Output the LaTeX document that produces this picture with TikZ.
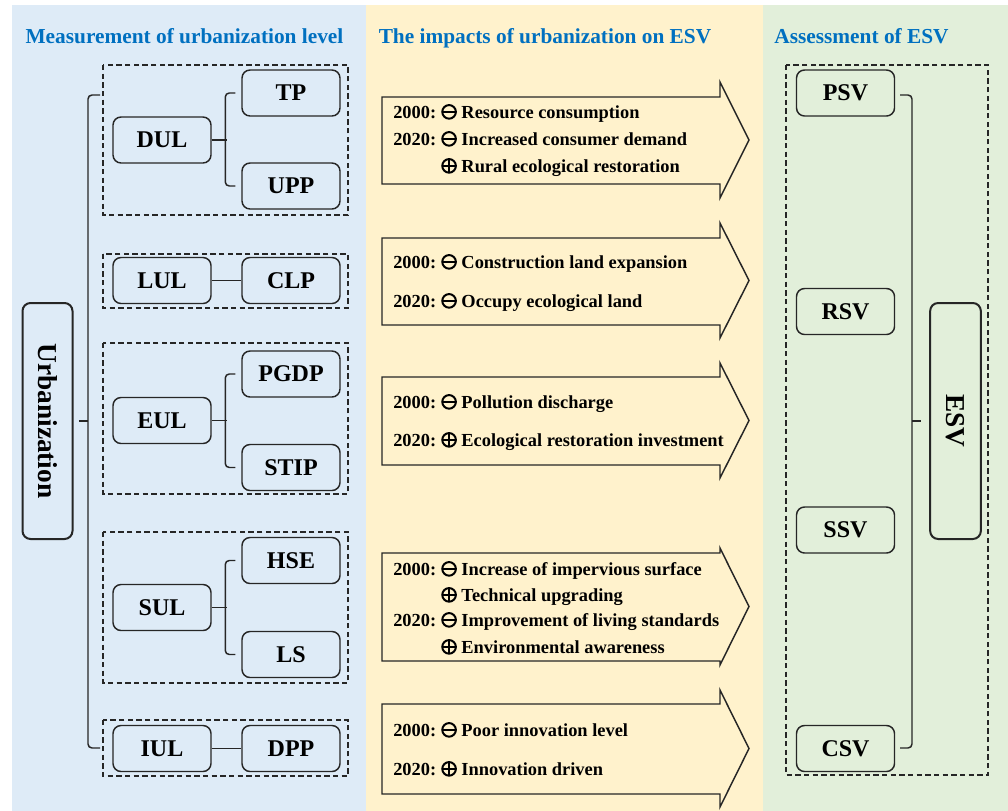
\documentclass[tikz,border=0pt]{standalone}
\usepackage{fontspec}
\setmainfont{Liberation Serif}
\usetikzlibrary{calc}
\definecolor{pblue}{RGB}{222,235,247}
\definecolor{pyellow}{RGB}{255,242,204}
\definecolor{pgreen}{RGB}{226,239,218}
\definecolor{tblue}{RGB}{0,112,192}
\definecolor{ink}{RGB}{38,38,38}
\newcommand\cminus{\tikz[baseline={(0pt,-4.6pt)}]{\draw[line width=1.5pt,black] (0pt,0pt) circle (5.1pt); \draw[line width=1.5pt,black] (-5.1pt,0pt) -- (5.1pt,0pt);}}
\newcommand\cplus{\tikz[baseline={(0pt,-4.6pt)}]{\draw[line width=1.5pt,black] (0pt,0pt) circle (5.1pt); \draw[line width=1.5pt,black] (-5.1pt,0pt) -- (5.1pt,0pt); \draw[line width=1.5pt,black] (0pt,-5.1pt) -- (0pt,5.1pt);}}
\newcommand\yr[1]{\makebox[36pt][l]{#1}}
\tikzset{
  box/.style={draw=ink, line width=1.1pt, rounded corners=6pt, minimum width=73.5pt, minimum height=34.5pt, inner sep=0pt, font=\fontsize{18}{20}\selectfont\bfseries, text=black},
  bigbox/.style={box, line width=1.5pt, minimum width=37.5pt, minimum height=177pt, font=\fontsize{20.5}{22}\selectfont\bfseries},
  grp/.style={draw=ink, line width=1.1pt, dash pattern=on 4pt off 2.5pt},
  conn/.style={draw=ink, line width=1.1pt},
  arr/.style={draw=ink, line width=1.1pt, line join=miter},
  ttl/.style={font=\fontsize{16}{18}\selectfont\bfseries, text=tblue, anchor=base, inner sep=0pt},
  itxt/.style={font=\fontsize{13.8}{16}\selectfont\bfseries, anchor=base west, inner sep=0pt, text=black}
}
\begin{document}
\begin{tikzpicture}[x=0.75pt,y=-0.75pt]
\useasboundingbox (0,0) rectangle (1008,811);
\fill[white] (0,0) rectangle (1008,811);
\fill[pblue] (12,5) rectangle (366,811);
\fill[pyellow] (366,5) rectangle (763,811);
\fill[pgreen] (763,5) rectangle (1008,811);

% titles
\node[ttl] (t1) at (184.5,43) {Measurement of urbanization level};
\node[ttl] (t2) at (545,43) {The impacts of urbanization on ESV};
\node[ttl] (t3) at (861.5,43) {Assessment of ESV};

% left groups
\draw[grp] (103,65) rectangle (348,215);
\draw[grp] (103,254) rectangle (348,308);
\draw[grp] (103,343) rectangle (348,494);
\draw[grp] (103,532) rectangle (348,683);
\draw[grp] (103,720) rectangle (348,776);

\node[box] (dul) at (162,140) {DUL};
\node[box] (tp) at (291,93) {TP};
\node[box] (upp) at (291,186) {UPP};
\node[box] (lul) at (162,280.5) {LUL};
\node[box] (clp) at (291,280.5) {CLP};
\node[box] (eul) at (162,420.5) {EUL};
\node[box] (pgdp) at (291,374) {PGDP};
\node[box] (stip) at (291,467.5) {STIP};
\node[box] (sul) at (162,607.5) {SUL};
\node[box] (hse) at (291,560.5) {HSE};
\node[box] (ls) at (291,654.5) {LS};
\node[box] (iul) at (162,748.5) {IUL};
\node[box] (dpp) at (291,748.5) {DPP};

\node[bigbox] (urb) at (47.5,421) {\rotatebox{-90}{Urbanization}};

\foreach \a/\b/\c in {dul/tp/upp, eul/pgdp/stip, sul/hse/ls} {
  \draw[conn] (\a.east) -- ++(11.25pt,0pt);
  \draw[conn, rounded corners=3pt] ([xshift=-4.5pt]\b.west) -- ++(-7.5pt,0pt) |- ([xshift=-4.5pt]\c.west);
}
\draw[conn] (lul) -- (clp);
\draw[conn] (iul) -- (dpp);

\coordinate (lt) at (100,95);
\coordinate (lb) at (100,748);
\coordinate (lmid) at (88,421);
\draw[conn, rounded corners=3pt] (lt) -- ++(-9pt,0pt) |- (lb);
\draw[conn] ([xshift=4pt]urb.east) -- (lmid);

% arrows
\draw[arr] (382,97) -- (720,97) -- (720,82) -- (749,140) -- (720,198) -- (720,184) -- (382,184) -- cycle;
\draw[arr] (382,238) -- (720,238) -- (720,223) -- (749,280.5) -- (720,338) -- (720,325) -- (382,325) -- cycle;
\draw[arr] (382,377) -- (720,377) -- (720,363) -- (749,420.5) -- (720,478) -- (720,465) -- (382,465) -- cycle;
\draw[arr] (382,553) -- (720,553) -- (720,548) -- (749,606.5) -- (720,665) -- (720,661) -- (382,661) -- cycle;
\draw[arr] (382,704) -- (720,704) -- (720,690) -- (749,748.5) -- (720,807) -- (720,794) -- (382,794) -- cycle;

\node[itxt] (a1) at (393,118) {\yr{2000:}\cminus\ Resource consumption};
\node[itxt] (a2) at (393,145) {\yr{2020:}\cminus\ Increased consumer demand};
\node[itxt] (a3) at (393,172) {\yr{}\cplus\ Rural ecological restoration};

\node[itxt] (b1) at (393,268) {\yr{2000:}\cminus\ Construction land expansion};
\node[itxt] (b2) at (393,307) {\yr{2020:}\cminus\ Occupy ecological land};

\node[itxt] (c1) at (393,408) {\yr{2000:}\cminus\ Pollution discharge};
\node[itxt] (c2) at (393,446) {\yr{2020:}\cplus\ Ecological restoration investment};

\node[itxt] (d1) at (393,575) {\yr{2000:}\cminus\ Increase of impervious surface};
\node[itxt] (d2) at (393,601) {\yr{}\cplus\ Technical upgrading};
\node[itxt] (d3) at (393,626) {\yr{2020:}\cminus\ Improvement of living standards};
\node[itxt] (d4) at (393,653) {\yr{}\cplus\ Environmental awareness};

\node[itxt] (e1) at (393,736) {\yr{2000:}\cminus\ Poor innovation level};
\node[itxt] (e2) at (393,775) {\yr{2020:}\cplus\ Innovation driven};

% right column
\draw[grp] (786,65) rectangle (988,775);
\node[box] (psv) at (845.5,93) {PSV};
\node[box] (rsv) at (845.5,311.5) {RSV};
\node[box] (ssv) at (845.5,530) {SSV};
\node[box] (csv) at (845.5,748.5) {CSV};
\node[bigbox, minimum width=38pt] (esv) at (955.5,421) {\rotatebox{-90}{ESV}};

\coordinate (rt) at (900,95);
\coordinate (rb) at (900,748);
\coordinate (rmid) at (912,421);
\draw[conn, rounded corners=3pt] (rt) -- ++(9pt,0pt) |- (rb);
\draw[conn] (rmid) -- ([xshift=-6pt]esv.west);
\end{tikzpicture}
\end{document}
